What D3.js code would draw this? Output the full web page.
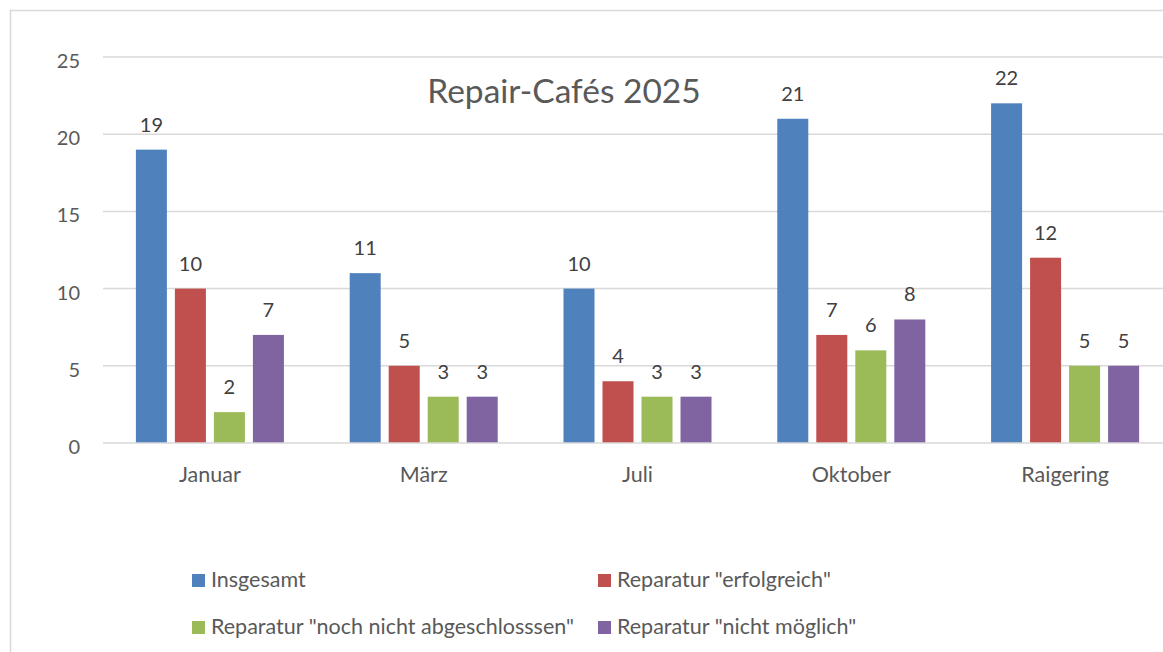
<!DOCTYPE html>
<html><head><meta charset="utf-8">
<script src="https://cdn.jsdelivr.net/npm/d3@7"></script>
<style>body{margin:0;background:#fff;} svg{display:block;font-family:Lato, "Open Sans", sans-serif;}</style>
</head><body>
<svg id="c" width="1163" height="652"></svg>
<script>
const categories = ["Januar", "März", "Juli", "Oktober", "Raigering"];
const seriesNames = ["Insgesamt", "Reparatur \"erfolgreich\"", "Reparatur \"noch nicht abgeschlosssen\"", "Reparatur \"nicht möglich\""];
const insgesamt = [19, 11, 10, 21, 22];
const erfolgreich = [10, 5, 4, 7, 12];
const nochNicht = [2, 3, 3, 6, 5];
const nichtMoeglich = [7, 3, 3, 8, 5];
const yTicks = [0, 5, 10, 15, 20, 25];
const colors = ["#4f81bd", "#c0504d", "#9bbb59", "#8064a2"];
const title = "Repair-Cafés 2025";

const series = [insgesamt, erfolgreich, nochNicht, nichtMoeglich];
const svg = d3.select("#c");

// chart border
svg.append("rect").attr("x", 10.5).attr("y", 10.5).attr("width", 1200).attr("height", 700)
  .attr("fill", "none").attr("stroke", "#d9d9d9").attr("stroke-width", 1.5);

const x = d3.scaleBand().domain(categories).range([103, 1172]);
const y = d3.scaleLinear().domain([0, 25]).range([443, 57]);
const inner = d3.scaleBand().domain(d3.range(4)).range([0, x.bandwidth()]).paddingInner(0.205).paddingOuter(0.843);

// gridlines
svg.append("g").selectAll("line").data(yTicks.filter(d => d > 0)).join("line")
  .attr("x1", 103).attr("x2", 1172).attr("y1", d => y(d)).attr("y2", d => y(d))
  .attr("stroke", "#d9d9d9").attr("stroke-width", 1.5);

// y labels
svg.append("g").selectAll("text").data(yTicks).join("text")
  .attr("x", 80).attr("y", d => y(d) + 11).attr("text-anchor", "end")
  .attr("font-size", 20).attr("fill", "#595959").text(d => d);

// bars
series.forEach((vals, si) => {
  const g = svg.append("g");
  g.selectAll("rect").data(vals).join("rect")
    .attr("x", (d, i) => x(categories[i]) + inner(si))
    .attr("y", d => y(d)).attr("width", inner.bandwidth())
    .attr("height", d => y(0) - y(d)).attr("fill", colors[si]);
  g.selectAll("text").data(vals).join("text")
    .attr("x", (d, i) => x(categories[i]) + inner(si) + inner.bandwidth() / 2)
    .attr("y", d => y(d) - 18).attr("text-anchor", "middle")
    .attr("font-size", 20).attr("fill", "#404040").text(d => d);
});

// x axis line
svg.append("line").attr("x1", 103).attr("x2", 1172).attr("y1", y(0)).attr("y2", y(0))
  .attr("stroke", "#d9d9d9").attr("stroke-width", 1.5);

// category labels
svg.append("g").selectAll("text").data(categories).join("text")
  .attr("x", d => x(d) + x.bandwidth() / 2).attr("y", 482).attr("text-anchor", "middle")
  .attr("font-size", 21.5).attr("fill", "#595959").text(d => d);

// title
svg.append("text").attr("x", 564).attr("y", 103).attr("text-anchor", "middle")
  .attr("font-size", 33.5).attr("fill", "#595959").text(title);

// legend
const legPos = [[192, 587], [598, 587], [192, 634], [598, 634]];
seriesNames.forEach((n, i) => {
  const [lx, ly] = legPos[i];
  svg.append("rect").attr("x", lx).attr("y", ly - 13).attr("width", 13).attr("height", 13).attr("fill", colors[i]);
  svg.append("text").attr("x", lx + 19).attr("y", ly).attr("font-size", 21.5).attr("fill", "#595959").text(n);
});
</script>
</body></html>
